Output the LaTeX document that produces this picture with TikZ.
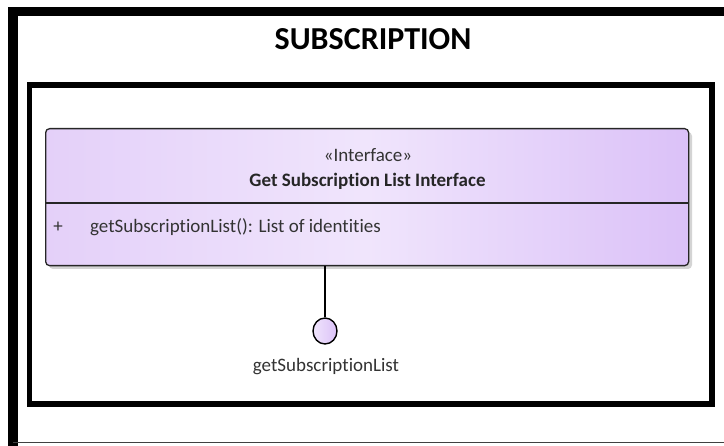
\documentclass[tikz,border=0pt]{standalone}
\usepackage{fontspec}
\setmainfont[Ligatures=NoCommon]{Carlito}
\usetikzlibrary{calc,shapes.geometric}
\definecolor{boxL}{HTML}{E4D0F9}
\definecolor{boxM}{HTML}{F0E5FC}
\definecolor{boxR}{HTML}{DBC1F8}
\definecolor{shadowc}{HTML}{D4D4D4}
\definecolor{txt}{HTML}{333333}
\tikzset{
  frameline/.style={line width=#1, line cap=rect},
  classbox/.style={draw=black!85, line width=1.3pt, rounded corners=4pt,
    left color=boxL, right color=boxR, middle color=boxM,
    minimum width=643pt, minimum height=137pt, inner sep=0pt},
  lollipop/.style={draw=black, line width=1.4pt, ellipse, inner sep=0pt,
    minimum width=24pt, minimum height=26pt, left color=boxM, right color=boxR},
  lbl/.style={font=\fontsize{19}{21}\selectfont, text=txt, inner sep=0pt, anchor=base}
}
\begin{document}
\begin{tikzpicture}[x=1pt,y=-1pt]
\useasboundingbox (0,0) rectangle (724,446);
\fill[white] (0,0) rectangle (724,446);
% outer frame
\draw[frameline=9.5pt] (13,450) -- (13,11.5) -- (730,11.5);
\draw[black!75, line width=1.6pt] (13,442.5) -- (730,442.5);
\node[font=\bfseries\fontsize{32}{36}\selectfont, inner sep=0pt, anchor=base] (title) at (373,50) {SUBSCRIPTION};
% inner frame
\draw[frameline=5.6pt] (29.5,85) rectangle (712,404);
% class box
\fill[shadowc, rounded corners=4pt] (49,132) rectangle (692,269);
\node[classbox, anchor=north west] (cls) at (45,128) {};
\draw[black!85, line width=1.3pt] (cls.west |- 0,203) -- (cls.east |- 0,203);
\node[lbl] (stereo) at (368,162) {«Interface»};
\node[lbl, font=\bfseries\fontsize{19}{21}\selectfont, text=black!85] (cname) at (367.5,187) {Get Subscription List Interface};
\node[lbl] (plus) at (58,233) {+};
\node[lbl, anchor=base west] (op) at (90,233) {getSubscriptionList(): List of identities};
% lollipop
\node[lollipop] (ball) at (325,331) {};
\draw[line width=1.4pt] (cls.south -| ball) -- (ball.north);
\node[lbl] (blabel) at (326,372) {getSubscriptionList};
\end{tikzpicture}
\end{document}
